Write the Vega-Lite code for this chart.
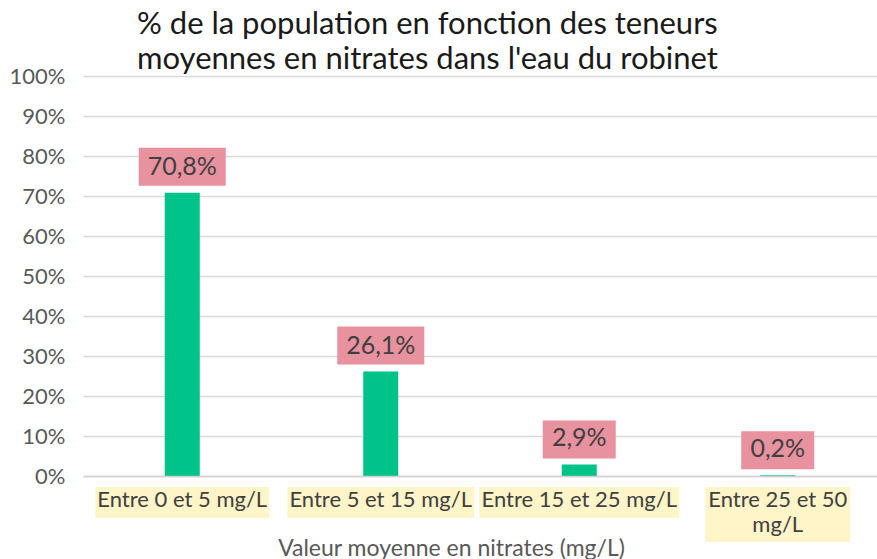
{
  "$schema": "https://vega.github.io/schema/vega-lite/v6.json",
  "width": 794,
  "height": 400,
  "autosize": "none",
  "padding": {"left": 83, "top": 76, "right": 0, "bottom": 83},
  "background": "white",
  "config": {"view": {"stroke": null}, "font": "Lato"},
  "title": {
    "text": ["% de la population en fonction des teneurs", "moyennes en nitrates dans l'eau du robinet"],
    "anchor": "start",
    "frame": "group",
    "dx": 54,
    "offset": -11,
    "fontSize": 31,
    "fontWeight": "normal",
    "font": "Lato",
    "color": "#1a1a1a",
    "lineHeight": 35
  },
  "data": {
    "values": [
      {"categorie": "Entre 0 et 5 mg/L", "value": 70.8, "label": "70,8%"},
      {"categorie": "Entre 5 et 15 mg/L", "value": 26.1, "label": "26,1%"},
      {"categorie": "Entre 15 et 25 mg/L", "value": 2.9, "label": "2,9%"},
      {"categorie": "Entre 25 et 50 mg/L", "value": 0.2, "label": "0,2%"}
    ]
  },
  "encoding": {
    "x": {
      "field": "categorie",
      "type": "nominal",
      "sort": null,
      "scale": {"paddingInner": 0, "paddingOuter": 0},
      "axis": {
        "zindex": 1,
        "title": "Valeur moyenne en nitrates (mg/L)",
        "titleFont": "Lato",
        "titleFontSize": 23,
        "titleFontWeight": "normal",
        "titleColor": "#595959",
        "titleX": 368,
        "titleY": 72,
        "titleBaseline": "middle",
        "labelAngle": 0,
        "labelFont": "Lato",
        "labelFontSize": 22,
        "labelColor": "#404040",
        "labelPadding": 13,
        "labelLimit": 400,
        "labelLineHeight": 25,
        "labelExpr": "datum.value == 'Entre 25 et 50 mg/L' ? ['Entre 25 et 50', 'mg/L'] : datum.value",
        "ticks": false,
        "domainColor": "#d0d0d0",
        "domainWidth": 1.5,
        "labelBaseline": "top"
      }
    },
    "y": {
      "field": "value",
      "type": "quantitative",
      "scale": {"domain": [0, 100], "nice": false},
      "axis": {
        "title": null,
        "values": [0, 10, 20, 30, 40, 50, 60, 70, 80, 90, 100],
        "labelExpr": "datum.value + '%'",
        "labelFont": "Lato",
        "labelFontSize": 22,
        "labelColor": "#595959",
        "labelPadding": 18,
        "domain": false,
        "ticks": false,
        "gridColor": "#d9d9d9",
        "gridWidth": 1.5
      }
    }
  },
  "layer": [
    {
      "transform": [{"filter": "datum.categorie == 'Entre 0 et 5 mg/L'"}],
      "mark": {"type": "bar", "color": "#FFF5C8", "width": 174, "y2Offset": 11, "yOffset": 42},
      "encoding": {"y": {"datum": 0}, "y2": {"datum": 0}}
    },
    {
      "transform": [{"filter": "datum.categorie == 'Entre 5 et 15 mg/L'"}],
      "mark": {"type": "bar", "color": "#FFF5C8", "width": 187, "y2Offset": 11, "yOffset": 42},
      "encoding": {"y": {"datum": 0}, "y2": {"datum": 0}}
    },
    {
      "transform": [{"filter": "datum.categorie == 'Entre 15 et 25 mg/L'"}],
      "mark": {"type": "bar", "color": "#FFF5C8", "width": 200, "y2Offset": 11, "yOffset": 42},
      "encoding": {"y": {"datum": 0}, "y2": {"datum": 0}}
    },
    {
      "transform": [{"filter": "datum.categorie == 'Entre 25 et 50 mg/L'"}],
      "mark": {"type": "bar", "color": "#FFF5C8", "width": 145, "y2Offset": 11, "yOffset": 66},
      "encoding": {"y": {"datum": 0}, "y2": {"datum": 0}}
    },
    {
      "mark": {"type": "bar", "color": "#00C389", "width": 35},
      "encoding": {}
    },
    {
      "transform": [{"filter": "datum.value >= 10"}],
      "mark": {"type": "bar", "color": "#E8919F", "width": 87, "yOffset": -45, "y2Offset": -7},
      "encoding": {"y2": {"field": "value"}}
    },
    {
      "transform": [{"filter": "datum.value < 10"}],
      "mark": {"type": "bar", "color": "#E8919F", "width": 73, "yOffset": -44, "y2Offset": -6},
      "encoding": {"y2": {"field": "value"}}
    },
    {
      "mark": {"type": "text", "font": "Lato", "fontSize": 25, "color": "#404040", "dy": -26, "baseline": "middle"},
      "encoding": {"text": {"field": "label"}}
    }
  ]
}
